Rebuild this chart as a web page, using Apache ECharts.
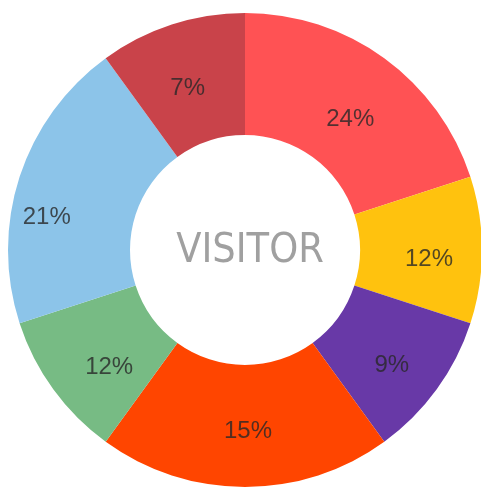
<!DOCTYPE html>
<html>
<head>
<meta charset="utf-8">
<script src="https://cdn.jsdelivr.net/npm/echarts@6/dist/echarts.min.js"></script>
<style>
  html, body { margin: 0; padding: 0; background: #fff; }
  #chart { width: 481px; height: 488px; }
</style>
</head>
<body>
<div id="chart"></div>
<script>
// 切片数据（扇区大小）和显示的标签
const categories = ['A', 'B', 'C', 'D', 'E', 'F', 'G']
const values = [20, 10, 10, 20, 10, 20, 10]
const labels = ['24%', '12%', '9%', '15%', '12%', '21%', '7%']
const colors = ['#FF5254', '#FFC20E', '#6839A7', '#FF4500', '#77BB84', '#8CC4E9', '#C9434A']
// 标签微调（原图里标签不完全居中）
const labelShift = [[0, 14], [5, 9], [2, 10], [3, 2], [9, 12], [-28, 23], [-2, 9]]

const myChart = echarts.init(document.getElementById('chart'))
myChart.setOption({
  animation: false,
  graphic: [
    {
      type: 'text',
      x: 250,
      y: 251,
      style: {
        text: 'VISITOR',
        align: 'center',
        verticalAlign: 'middle',
        fill: '#a0a0a0',
        font: '41px "Liberation Sans Narrow", "DejaVu Sans Condensed", sans-serif'
      }
    }
  ],
  series: [
    {
      type: 'pie',
      center: [245, 250],
      radius: [115, 237],
      startAngle: 90,
      clockwise: true,
      silent: true,
      label: {
        position: 'inside',
        formatter: (p) => labels[p.dataIndex],
        color: 'rgba(40,40,40,0.8)',
        fontSize: 24,
        fontFamily: '"Liberation Sans", Arial, sans-serif'
      },
      labelLine: { show: false },
      data: categories.map((c, i) => ({
        name: c,
        value: values[i],
        itemStyle: { color: colors[i] },
        label: { offset: labelShift[i] }
      }))
    }
  ]
})
</script>
</body>
</html>
